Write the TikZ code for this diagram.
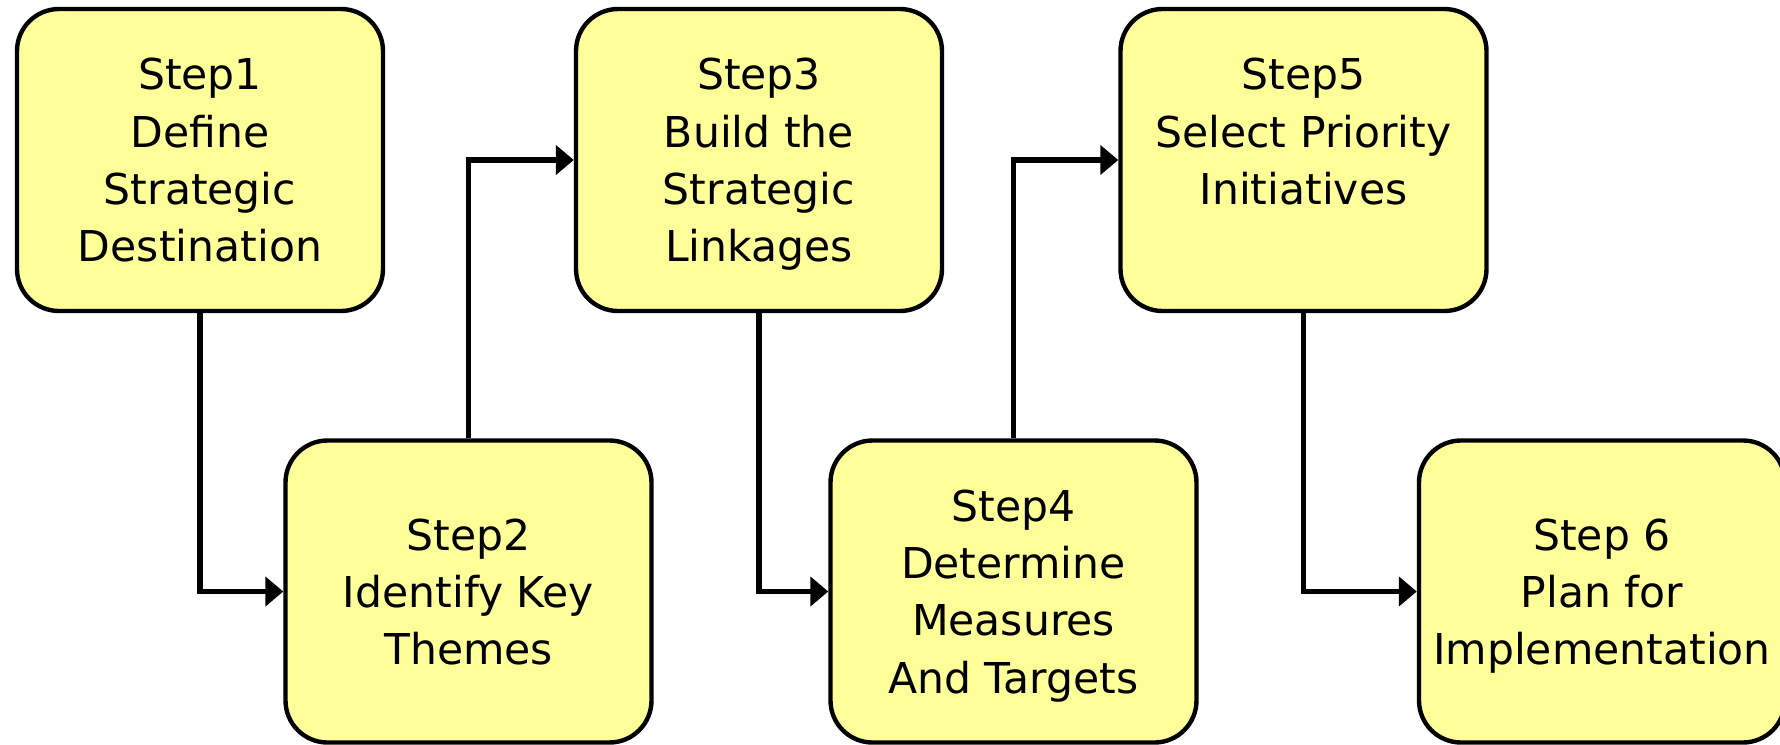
\documentclass[tikz,border=0pt]{standalone}
\usepackage{fontspec}
\setmainfont{DejaVu Sans}
\usepackage{xcolor}
\usetikzlibrary{arrows.meta}

\definecolor{boxyellow}{HTML}{FFFF99}

\tikzset{
  stepbox/.style={draw=black, fill=boxyellow, line width=1.25pt, rounded corners=0.42cm,
    minimum width=3.66cm, minimum height=3.02cm, inner sep=0pt, align=center,
    text depth=0pt, font=\fontsize{12.1}{16.3}\selectfont},
  flow/.style={line width=1.6pt, -{Triangle[length=0.18cm, width=0.29cm]}}
}

\begin{document}
\begin{tikzpicture}
  \useasboundingbox (0,0) rectangle (17.8,-7.44);

  % top row
  \node[stepbox] (s1) at (2.00,-1.60) {Step1\\Define\\Strategic\\Destination};
  \node[stepbox] (s3) at (7.59,-1.60) {Step3\\Build the\\Strategic\\Linkages};
  \node[stepbox] (s5) at (13.035,-1.60) {Step5\\Select Priority\\Initiatives\\~};

  % bottom row
  \node[stepbox] (s2) at (4.685,-5.915) {Step2\\Identify Key\\Themes};
  \node[stepbox] (s4) at (10.135,-5.915) {Step4\\Determine\\Measures\\And Targets};
  \node[stepbox] (s6) at (16.02,-5.915) {Step 6\\Plan for\\Implementation};

  % connectors
  \draw[flow] (s1.south) |- (s2.west);
  \draw[flow] (s2.north) |- (s3.west);
  \draw[flow] (s3.south) |- (s4.west);
  \draw[flow] (s4.north) |- (s5.west);
  \draw[flow] (s5.south) |- (s6.west);
\end{tikzpicture}
\end{document}
